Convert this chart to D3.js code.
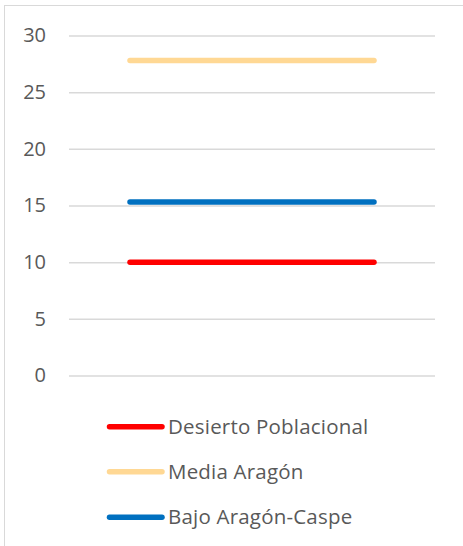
<!DOCTYPE html>
<html>
<head>
<meta charset="utf-8">
<script src="https://cdn.jsdelivr.net/npm/d3@7"></script>
<style>
  html, body { margin: 0; padding: 0; background: #fff; }
  svg { display: block; font-family: "Open Sans", "DejaVu Sans", sans-serif; }
</style>
</head>
<body>
<div id="chart"></div>
<script>
const W = 463;
const H = 546;

// three unlabeled categories, each series flat across them
const categories = ['a', 'b', 'c'];
const seriesNames = ['Desierto Poblacional', 'Media Aragón', 'Bajo Aragón-Caspe'];
const seriesValues = [
  [10, 10, 10],
  [27.8, 27.8, 27.8],
  [15.3, 15.3, 15.3]
];
const seriesColors = ['#ff0000', '#ffd894', '#0070c0'];
const yTicks = [0, 5, 10, 15, 20, 25, 30];

const plot = { left: 69, right: 435, top: 35.5, bottom: 375.5 };

const svg = d3.select('#chart').append('svg')
  .attr('width', W)
  .attr('height', H);

// outer chart border (cropped at right/bottom)
svg.append('rect')
  .attr('x', 4.5).attr('y', 5.5)
  .attr('width', 480).attr('height', 560)
  .attr('fill', '#fff')
  .attr('stroke', '#d9d9d9');

const x = d3.scalePoint()
  .domain(categories)
  .range([plot.left, plot.right])
  .padding(0.5);

const y = d3.scaleLinear()
  .domain([0, 30])
  .range([plot.bottom, plot.top]);

// gridlines + tick labels
const yAxis = d3.axisLeft(y)
  .tickValues(yTicks)
  .tickSize(-(plot.right - plot.left))
  .tickPadding(23);

const gy = svg.append('g')
  .attr('transform', `translate(${plot.left},0)`)
  .call(yAxis);
gy.select('.domain').remove();
gy.selectAll('.tick line')
  .attr('stroke', '#d9d9d9')
  .attr('stroke-width', 1.5);
gy.selectAll('.tick text')
  .attr('fill', '#595959')
  .style('font-size', '20px')
  .style('font-family', '"Open Sans", sans-serif');

const line = d3.line()
  .x((d, i) => x(categories[i]))
  .y(d => y(d));

svg.append('g')
  .selectAll('path')
  .data(seriesValues)
  .join('path')
  .attr('d', line)
  .attr('fill', 'none')
  .attr('stroke', (d, i) => seriesColors[i])
  .attr('stroke-width', 5.5)
  .attr('stroke-linecap', 'round');

// legend
const legendRows = [426.7, 471.7, 517.3];
const lg = svg.append('g')
  .selectAll('g')
  .data(seriesNames)
  .join('g')
  .attr('transform', (d, i) => `translate(108,${legendRows[i]})`);

lg.append('line')
  .attr('x1', 1.5).attr('x2', 54)
  .attr('stroke', (d, i) => seriesColors[i])
  .attr('stroke-width', 5.5)
  .attr('stroke-linecap', 'round');

lg.append('text')
  .attr('x', 60)
  .attr('dy', '0.35em')
  .attr('fill', '#595959')
  .style('font-size', '20.5px')
  .style('letter-spacing', '0.2px')
  .text(d => d);
</script>
</body>
</html>
